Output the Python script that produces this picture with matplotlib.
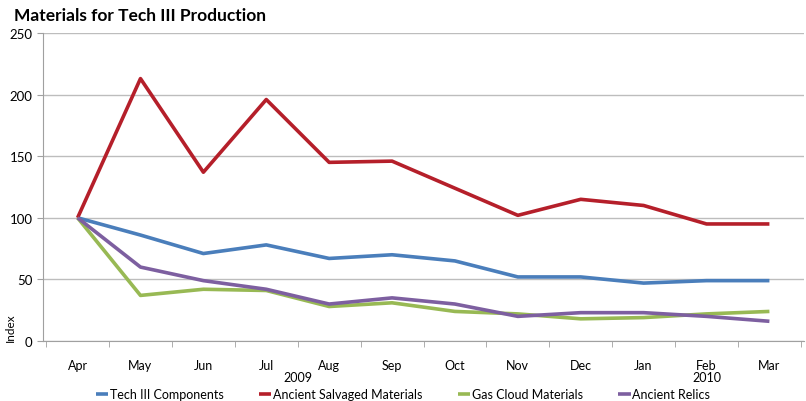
import numpy as np
import matplotlib
matplotlib.use("Agg")
import matplotlib.pyplot as plt

months = ["Apr", "May", "Jun", "Jul", "Aug", "Sep", "Oct", "Nov", "Dec", "Jan", "Feb", "Mar"]
years = ["2009", "2010"]
year_pos = [3.5, 10]

tech3 = [100, 86, 71, 78, 67, 70, 65, 52, 52, 47, 49, 49]
salvaged = [100, 213, 137, 196, 145, 146, 124, 102, 115, 110, 95, 95]
gas_cloud = [100, 37, 42, 41, 28, 31, 24, 22, 18, 19, 22, 24]
relics = [100, 60, 49, 42, 30, 35, 30, 20, 23, 23, 20, 16]

names = ["Tech III Components", "Ancient Salvaged Materials", "Gas Cloud Materials", "Ancient Relics"]
colors = ["#4a7ebb", "#b51f2a", "#98b954", "#7d5fa0"]

plt.rcParams['font.family'] = ['Lato', 'DejaVu Sans']

fig = plt.figure(figsize=(8.06, 4.02), dpi=100)
ax = fig.add_axes([43 / 806, 60 / 402, 761 / 806, 308 / 402])

x = np.arange(len(months))
for vals, name, c in zip([tech3, salvaged, gas_cloud, relics], names, colors):
    ax.plot(x, vals, color=c, lw=2.6, label=name, solid_capstyle='butt')

ax.set_xlim(-0.55, len(months) - 0.45)
ax.set_ylim(0, 250)
ax.set_yticks(range(0, 251, 50))
ax.yaxis.grid(True, color="#bdbdbd", lw=1)
ax.set_axisbelow(True)

ax.set_xticks(x)
ax.set_xticklabels(months, fontsize=9)
ax.set_xticks(np.arange(-0.5, len(months), 1), minor=True)
ax.tick_params(axis='x', which='major', length=0, pad=13)
ax.tick_params(axis='x', which='minor', length=4, color="#a0a0a0")
ax.tick_params(axis='y', length=4, color="#a0a0a0", labelsize=9.5)

for s in ["top", "right"]:
    ax.spines[s].set_visible(False)
for s in ["left", "bottom"]:
    ax.spines[s].set_color("#a0a0a0")

for yr, p in zip(years, year_pos):
    ax.text(p, -0.117, yr, transform=ax.get_xaxis_transform(), ha='center', va='center', fontsize=9)

ax.set_ylabel("Index", fontsize=8.5)
ax.yaxis.set_label_coords(-0.036, 0.045)

fig.text(14 / 806, 1 - 16 / 402, "Materials for Tech III Production", fontsize=12.5, fontweight='bold',
         va='center', ha='left')

fig.legend(loc='center', bbox_to_anchor=(0.5, 1 - 395 / 402), ncol=4, frameon=False, fontsize=9,
           handlelength=1.0, handletextpad=0.15, columnspacing=2.8)

fig.savefig("out.png", dpi=100)
